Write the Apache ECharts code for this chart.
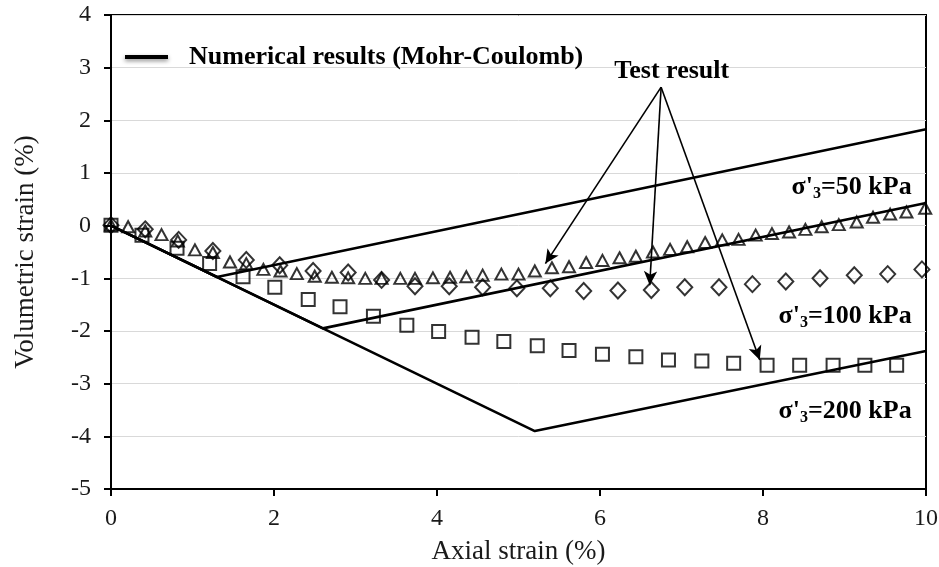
<!DOCTYPE html>
<html><head><meta charset="utf-8">
<script src="https://cdn.jsdelivr.net/npm/echarts@6/dist/echarts.min.js"></script>
<style>html,body{margin:0;padding:0;background:#fff}#c{width:939px;height:567px}</style>
</head><body><div id="c"></div>
<script>
// Numerical results (Mohr-Coulomb) : [axial strain, volumetric strain]
const mc50  = [[0, 0], [1.3, -0.975], [10, 1.83]];
const mc100 = [[0, 0], [2.6, -1.95], [10, 0.43]];
const mc200 = [[0, 0], [5.2, -3.9], [10, -2.38]];

// Test results, sigma'3 = 50 kPa (triangles)
const t50X = [0, 0.21, 0.42, 0.62, 0.82, 1.03, 1.25, 1.46, 1.66, 1.87, 2.08, 2.28, 2.50, 2.71, 2.91, 3.12, 3.32, 3.55, 3.73, 3.95, 4.16, 4.36, 4.56, 4.79, 5.00, 5.20, 5.41, 5.62, 5.83, 6.03, 6.24, 6.44, 6.65, 6.86, 7.07, 7.29, 7.50, 7.70, 7.91, 8.11, 8.32, 8.52, 8.72, 8.93, 9.15, 9.35, 9.56, 9.76, 9.99];
const t50Y = [0.01, -0.02, -0.10, -0.17, -0.29, -0.46, -0.51, -0.69, -0.72, -0.83, -0.86, -0.91, -0.96, -0.98, -0.99, -1.00, -1.00, -1.00, -1.00, -0.99, -0.98, -0.97, -0.94, -0.92, -0.92, -0.86, -0.80, -0.78, -0.70, -0.66, -0.61, -0.58, -0.50, -0.45, -0.40, -0.32, -0.27, -0.26, -0.18, -0.15, -0.12, -0.07, -0.02, 0.02, 0.07, 0.16, 0.22, 0.26, 0.33];

// Test results, sigma'3 = 100 kPa (diamonds)
const t100X = [0, 0.42, 0.83, 1.25, 1.66, 2.07, 2.48, 2.91, 3.32, 3.73, 4.15, 4.56, 4.98, 5.39, 5.80, 6.22, 6.63, 7.04, 7.46, 7.87, 8.28, 8.70, 9.12, 9.53, 9.95];
const t100Y = [0.01, -0.07, -0.27, -0.48, -0.65, -0.75, -0.86, -0.89, -1.03, -1.15, -1.15, -1.17, -1.19, -1.19, -1.24, -1.23, -1.22, -1.17, -1.17, -1.11, -1.06, -1.00, -0.94, -0.92, -0.83];

// Test results, sigma'3 = 200 kPa (squares)
const t200X = [0, 0.38, 0.81, 1.21, 1.62, 2.01, 2.42, 2.81, 3.22, 3.63, 4.02, 4.43, 4.82, 5.23, 5.62, 6.03, 6.44, 6.84, 7.25, 7.64, 8.05, 8.45, 8.86, 9.25, 9.64];
const t200Y = [0.01, -0.18, -0.43, -0.72, -0.97, -1.17, -1.40, -1.54, -1.72, -1.89, -2.01, -2.12, -2.20, -2.28, -2.37, -2.44, -2.49, -2.55, -2.57, -2.61, -2.65, -2.65, -2.65, -2.65, -2.65];

// Annotations (data coordinates)
const arrowFrom = [6.75, 2.63];
const arrowTo = [[5.33, -0.72], [6.61, -1.13], [7.96, -2.55]];
const testLabelAt = [6.88, 2.93];
const stressLabels = ['50', '100', '200'];
const stressLabelAt = [[9.83, 0.73], [9.83, -1.72], [9.83, -3.52]];

const LEG = 'Numerical results (Mohr-Coulomb)';
const FF = 'Liberation Serif';
const zip = (xs, ys) => xs.map((x, i) => [x, ys[i]]);

const chart = echarts.init(document.getElementById('c'), null, {renderer: 'canvas'});
const lineBase = {type: 'line', name: LEG, symbol: 'none', lineStyle: {color: '#000', width: 2.6}, itemStyle: {color: '#000'}, z: 3, silent: true};
const mk = {color: 'rgba(0,0,0,0)', borderColor: '#000', borderWidth: 2};

const rich = {
  s: {fontFamily: FF, fontSize: 26, fontWeight: 'bold', color: '#000'},
  sub: {fontFamily: FF, fontSize: 16, fontWeight: 'bold', color: '#000', padding: [14, 0, 0, 0]}
};

chart.setOption({
  animation: false,
  backgroundColor: '#fff',
  grid: {left: 111, right: 13, top: 15, bottom: 78, containLabel: false, outerBoundsMode: 'none',
         show: true, borderColor: '#000', borderWidth: 2, backgroundColor: 'transparent'},
  legend: {
    data: [LEG], left: 125, top: 44, padding: 0, itemWidth: 43, itemHeight: 4, icon: 'rect',
    itemStyle: {color: '#000', shadowColor: 'rgba(0,0,0,0.45)', shadowBlur: 4, shadowOffsetY: 2},
    textStyle: {fontFamily: FF, fontSize: 26, fontWeight: 'bold', color: '#000', padding: [0, 0, 0, 16]},
    selectedMode: false
  },
  xAxis: {
    type: 'value', min: 0, max: 10, interval: 2,
    axisLine: {show: true, onZero: false, lineStyle: {color: '#000', width: 2}},
    axisTick: {show: true, length: 7, lineStyle: {color: '#000', width: 2}},
    splitLine: {show: false},
    axisLabel: {fontFamily: FF, fontSize: 24, color: '#1a1a1a', margin: 18},
    name: 'Axial strain (%)', nameLocation: 'middle', nameGap: 49,
    nameTextStyle: {fontFamily: FF, fontSize: 27, color: '#1a1a1a'}
  },
  yAxis: {
    type: 'value', min: -5, max: 4, interval: 1,
    axisLine: {show: true, onZero: false, lineStyle: {color: '#000', width: 2}},
    axisTick: {show: true, length: 7, lineStyle: {color: '#000', width: 2}},
    splitLine: {show: true, lineStyle: {color: '#d9d9d9', width: 1}},
    axisLabel: {fontFamily: FF, fontSize: 24, color: '#1a1a1a', margin: 20},
    name: 'Volumetric strain (%)', nameLocation: 'middle', nameGap: 72,
    nameTextStyle: {fontFamily: FF, fontSize: 27, color: '#1a1a1a'}
  },
  series: [
    Object.assign({}, lineBase, {data: mc50,
      markPoint: {
        symbol: 'circle', symbolSize: 1, itemStyle: {color: 'rgba(0,0,0,0)'}, silent: true,
        data: stressLabels.map((s, i) => ({
          coord: stressLabelAt[i],
          label: {show: true, position: 'left', distance: 0, formatter: "{s|σ'}{sub|3}{s|=" + s + " kPa}", rich: rich}
        })).concat([{
          coord: testLabelAt,
          label: {show: true, position: 'inside', formatter: 'Test result', fontFamily: FF, fontSize: 26, fontWeight: 'bold', color: '#000'}
        }])
      },
      markLine: {
        silent: true, symbol: ['none', 'arrow'], symbolSize: [10, 14],
        lineStyle: {color: '#000', width: 1.6, type: 'solid'},
        label: {show: false},
        data: arrowTo.map(t => [{coord: arrowFrom}, {coord: t}])
      }
    }),
    Object.assign({}, lineBase, {data: mc100}),
    Object.assign({}, lineBase, {data: mc200}),
    {type: 'scatter', name: 'Test 50 kPa', data: zip(t50X, t50Y), symbol: 'triangle', symbolSize: [12, 11], itemStyle: mk, z: 4, silent: true},
    {type: 'scatter', name: 'Test 100 kPa', data: zip(t100X, t100Y), symbol: 'diamond', symbolSize: [15, 16], itemStyle: mk, z: 4, silent: true},
    {type: 'scatter', name: 'Test 200 kPa', data: zip(t200X, t200Y), symbol: 'rect', symbolSize: [13, 13], itemStyle: mk, z: 4, silent: true}
  ]
});
</script></body></html>
